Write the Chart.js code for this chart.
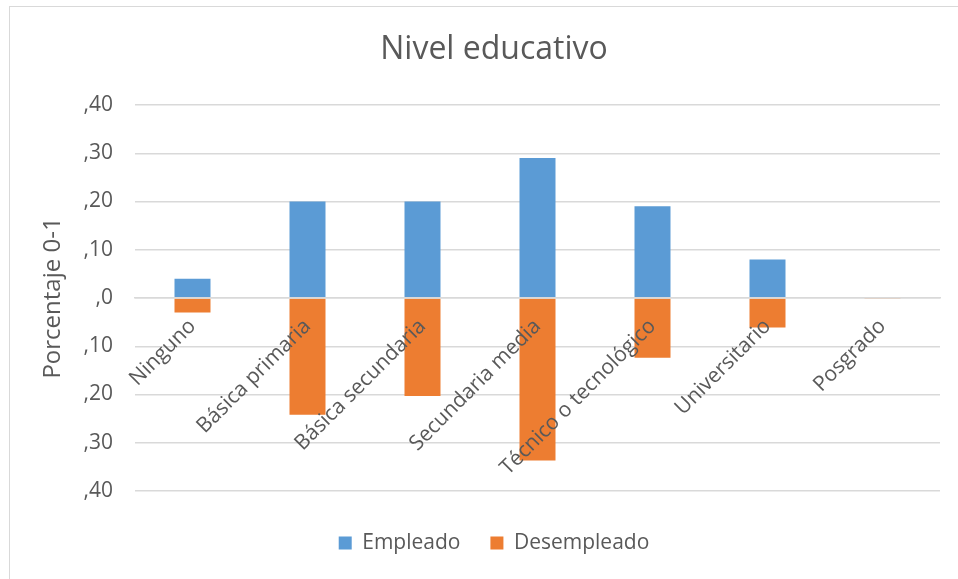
<!DOCTYPE html>
<html>
<head>
<meta charset="utf-8">
<script src="https://cdn.jsdelivr.net/npm/chart.js@4/dist/chart.umd.min.js"></script>
<style>
  html, body { margin: 0; padding: 0; background: #ffffff; overflow: hidden; }
  #frame { position: absolute; left: 9px; top: 6px; width: 1000px; height: 1000px; border: 1.5px solid #d9d9d9; box-sizing: border-box; }
  #wrap { position: absolute; left: 0; top: 0; width: 958px; height: 579px; }
</style>
</head>
<body>
<div id="frame"></div>
<div id="wrap"><canvas id="c" width="958" height="579"></canvas></div>
<script>
const categories = ['Ninguno', 'Básica primaria', 'Básica secundaria', 'Secundaria media', 'Técnico o tecnológico', 'Universitario', 'Posgrado'];
const empleado = [0.04, 0.20, 0.20, 0.29, 0.19, 0.08, 0.002];
const desempleado = [-0.03, -0.242, -0.203, -0.337, -0.124, -0.061, -0.002];
const yTickLabels = [',40', ',30', ',20', ',10', ',0', ',10', ',20', ',30', ',40'];
const seriesNames = ['Empleado', 'Desempleado'];
const chartTitle = 'Nivel educativo';
const yAxisTitle = 'Porcentaje 0-1';

const textColor = '#595959';
const gridColor = '#d9d9d9';
const fontFamily = '"Open Sans", "Noto Sans", sans-serif';

new Chart(document.getElementById('c'), {
  type: 'bar',
  data: {
    labels: categories,
    datasets: [
      { label: seriesNames[0], data: empleado, backgroundColor: '#5b9bd5', borderWidth: 0, stack: 's' },
      { label: seriesNames[1], data: desempleado, backgroundColor: '#ed7d31', borderWidth: 0, stack: 's' }
    ]
  },
  options: {
    responsive: false,
    animation: false,
    devicePixelRatio: 1,
    layout: { padding: { left: 48, right: 18, top: 30, bottom: 15.5 } },
    datasets: { bar: { barPercentage: 0.313, categoryPercentage: 1 } },
    plugins: {
      title: {
        display: true, text: chartTitle, color: textColor,
        font: { family: fontFamily, size: 32, weight: 'normal' },
        padding: { top: 1, bottom: 35.6 }
      },
      legend: {
        position: 'bottom',
        title: { display: true, text: '', font: { size: 1 }, padding: { top: 10.3, bottom: 0 } },
        labels: {
          color: textColor, boxWidth: 13, boxHeight: 13, padding: 30,
          font: { family: fontFamily, size: 21 }
        }
      },
      tooltip: { enabled: false }
    },
    scales: {
      x: {
        stacked: true,
        position: { y: 0 },
        grid: { display: false, drawTicks: false },
        border: { display: true, color: gridColor, width: 1.5, z: 1 },
        ticks: {
          color: textColor, minRotation: 45, maxRotation: 45, padding: 16, autoSkip: false, z: 1,
          font: { family: fontFamily, size: 21 }
        },
        afterFit: function (scale) { scale.paddingLeft = 0; scale.paddingRight = 0; }
      },
      y: {
        stacked: true,
        min: -0.4, max: 0.4,
        grid: { color: gridColor, lineWidth: 1.5, drawTicks: false },
        border: { display: false },
        ticks: {
          stepSize: 0.1, padding: 22, color: textColor,
          font: { family: fontFamily, size: 21 },
          callback: function (value, index) { return yTickLabels[index]; }
        },
        title: {
          display: true, text: yAxisTitle, color: textColor,
          font: { family: fontFamily, size: 24 }, padding: { top: -9.4, bottom: 14.6 }
        },
        afterFit: function (scale) { scale.width = 87; }
      }
    }
  }
});
</script>
</body>
</html>
